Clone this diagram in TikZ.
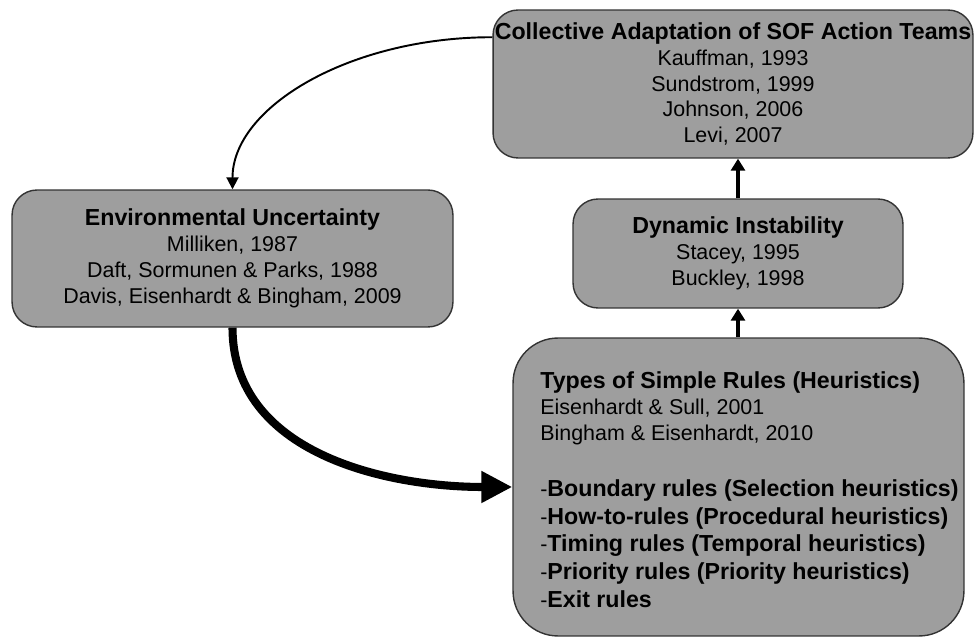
\documentclass[tikz,border=0pt]{standalone}
\usepackage{fontspec}
\setmainfont{Liberation Sans}
\usetikzlibrary{arrows.meta}
\definecolor{boxgray}{RGB}{158,158,158}
\newcommand{\boxtitle}[1]{{\fontsize{13.2}{14.7}\selectfont\bfseries #1}}
\tikzset{
  box/.style={draw=black!80, line width=0.8pt, fill=boxgray, rounded corners=0.5cm,
    align=center, inner sep=0pt, font=\fontsize{12.2}{14.7}\selectfont},
  link/.style={-{Triangle[length=0.24cm,width=0.28cm]}, line width=1.8pt},
}
\begin{document}
\begin{tikzpicture}[x=0.02cm, y=-0.02cm]
  \useasboundingbox (0,0) rectangle (975,638);
  % Boxes
  \node[box, minimum width=9.6cm, minimum height=2.96cm] (team) at (733,84)
    {\boxtitle{Collective Adaptation of SOF Action Teams}\\Kauffman, 1993\\Sundstrom, 1999\\Johnson, 2006\\Levi, 2007};
  \node[box, minimum width=8.82cm, minimum height=2.74cm] (env) at (232.5,258.5)
    {\boxtitle{Environmental Uncertainty}\\Milliken, 1987\\Daft, Sormunen \& Parks, 1988\\Davis, Eisenhardt \& Bingham, 2009};
  \node[box, minimum width=6.6cm, minimum height=2.18cm] (dyn) at (738,253.5)
    {\boxtitle{Dynamic Instability}\\Stacey, 1995\\Buckley, 1998};
  \node[box, rounded corners=0.9cm, minimum width=9.02cm, minimum height=5.96cm] (rules) at (738.5,487) {};
  \node[align=left, inner sep=0pt, anchor=west, font=\fontsize{12.2}{14.7}\selectfont] (rulestext) at (540,490)
    {\boxtitle{Types of Simple Rules (Heuristics)}\\
     Eisenhardt \& Sull, 2001\\
     Bingham \& Eisenhardt, 2010\\[17pt]
     -\boxtitle{Boundary rules (Selection heuristics)}\\[1.2pt]
     -\boxtitle{How-to-rules (Procedural heuristics)}\\[1.2pt]
     -\boxtitle{Timing rules (Temporal heuristics)}\\[1.2pt]
     -\boxtitle{Priority rules (Priority heuristics)}\\[1.2pt]
     -\boxtitle{Exit rules}};
  % Links
  \draw[line width=1.1pt, -{Triangle[length=0.24cm,width=0.24cm]}]
    (team.169.5) .. controls +(-143,0) and +(0,-82) .. (env.north);
  \draw[link] (dyn.north) -- (dyn.north |- team.south);
  \draw[link] (rules.north -| dyn.north) -- (dyn.south);
  \draw[line width=4.6pt, -{Triangle[length=0.62cm,width=0.6cm]}]
    (env.south) to[out=-90, in=180] (rules.west);
\end{tikzpicture}
\end{document}
